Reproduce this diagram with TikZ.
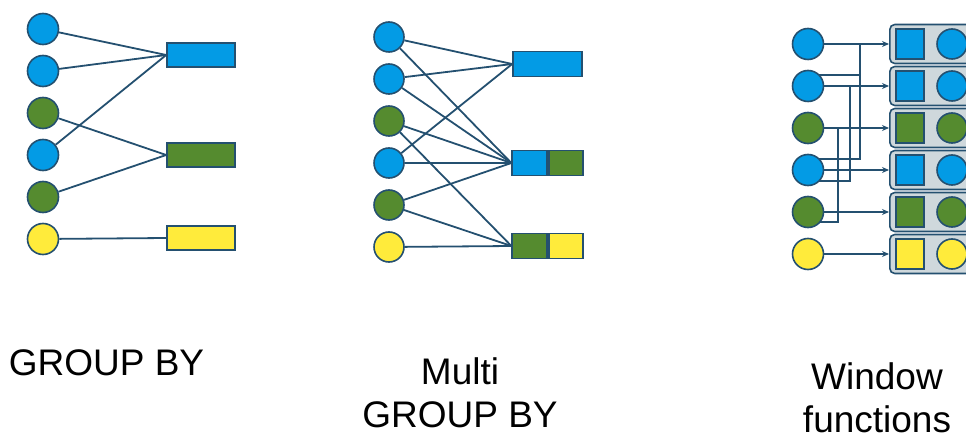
\documentclass[tikz,border=0pt]{standalone}
\usepackage{fontspec}
\setmainfont{Liberation Sans}
\usetikzlibrary{arrows.meta,backgrounds}
\definecolor{cblue}{RGB}{3,155,229}
\definecolor{cgreen}{RGB}{85,139,47}
\definecolor{cyellow}{RGB}{255,235,59}
\definecolor{cline}{RGB}{36,80,112}
\definecolor{cgray}{RGB}{207,216,220}
\begin{document}
\begin{tikzpicture}[x=1pt,y=-1pt,line width=1.4pt,
  dot/.style={circle,draw=cline,minimum size=31pt,inner sep=0pt,line width=1.6pt},
  bar/.style={rectangle,draw=cline,minimum width=68pt,minimum height=24pt,inner sep=0pt,line width=1.6pt},
  sq/.style={rectangle,draw=cline,minimum width=28pt,minimum height=30pt,inner sep=0pt,line width=1.6pt},
  wbox/.style={rectangle,rounded corners=5pt,draw=cline,fill=cgray,minimum width=100pt,minimum height=39pt,inner sep=0pt,line width=1.6pt,anchor=west},
  conn/.style={draw=cline,line width=1.8pt},
  arr/.style={conn,-{Stealth[length=7pt,width=6pt]}},
  lbl/.style={font=\fontsize{37}{43}\selectfont,inner sep=0pt}]
\useasboundingbox (0,0) rectangle (966,438);
\clip (0,0) rectangle (966,438);

% ---------- Panel 1: GROUP BY ----------
\node[dot,fill=cblue]   (a1) at (43,29) {};
\node[dot,fill=cblue]   (a2) at (43,71) {};
\node[dot,fill=cgreen]  (a3) at (43,113) {};
\node[dot,fill=cblue]   (a4) at (43,155) {};
\node[dot,fill=cgreen]  (a5) at (43,197) {};
\node[dot,fill=cyellow] (a6) at (43,239) {};
\node[bar,fill=cblue]   (ra1) at (201,55) {};
\node[bar,fill=cgreen]  (ra2) at (201,155) {};
\node[bar,fill=cyellow] (ra3) at (201,238) {};
\foreach \s/\t in {a1/ra1,a2/ra1,a4/ra1,a3/ra2,a5/ra2,a6/ra3}
  \draw[conn] (\s) -- (\t.west);

% ---------- Panel 2: Multi GROUP BY ----------
\node[dot,fill=cblue,minimum size=30pt]   (b1) at (389,37) {};
\node[dot,fill=cblue,minimum size=30pt]   (b2) at (389,79) {};
\node[dot,fill=cgreen,minimum size=30pt]  (b3) at (389,121) {};
\node[dot,fill=cblue,minimum size=30pt]   (b4) at (389,163) {};
\node[dot,fill=cgreen,minimum size=30pt]  (b5) at (389,205) {};
\node[dot,fill=cyellow,minimum size=30pt] (b6) at (389,247) {};
\node[bar,fill=cblue,minimum width=69pt,minimum height=25pt] (rb1) at (547.5,64) {};
\node[bar,fill=cblue,minimum width=35pt,minimum height=25pt,anchor=east] (rb2) at (548,163) {};
\node[bar,fill=cgreen,minimum width=34pt,minimum height=25pt,anchor=west] (rb2b) at (548,163) {};
\node[bar,fill=cgreen,minimum width=35pt,minimum height=25pt,anchor=east] (rb3) at (548,246) {};
\node[bar,fill=cyellow,minimum width=34pt,minimum height=25pt,anchor=west] (rb3b) at (548,246) {};
\foreach \s/\t in {b1/rb1,b1/rb2,b2/rb1,b2/rb2,b3/rb2,b3/rb3,b4/rb1,b4/rb2,b5/rb2,b5/rb3,b6/rb3}
  \draw[conn] (\s) -- (\t.west);

% ---------- Panel 3: Window functions ----------
\foreach \i/\y/\c in {1/44/cblue,2/86/cblue,3/128/cgreen,4/170/cblue,5/212/cgreen,6/254/cyellow}{
  \node[wbox] (w\i) at (889,\y) {};
  \node[sq,fill=\c] (s\i) at (910,\y) {};
  \node[dot,fill=\c,minimum size=30pt] (q\i) at (952,\y) {};
  \node[dot,fill=\c,minimum size=31pt] (c\i) at (808,\y) {};
  \draw[arr] (c\i) -- (w\i.west);
}
\coordinate (j1) at (860,0);
\coordinate (j2) at (850,0);
\coordinate (j3) at (838,0);
\begin{pgfonlayer}{background}
  \draw[conn] ([yshift=11pt]c2.center) -- ([yshift=11pt]c2.center -| j1);
  \draw[conn] (c1.center -| j1) |- ([yshift=11pt]c4.center);
  \draw[conn] (c2.center -| j2) |- ([yshift=-11pt]c4.center);
  \draw[conn] (c3.center -| j3) |- ([yshift=-10pt]c5.center);
\end{pgfonlayer}

% ---------- Labels ----------
\node[lbl,anchor=base] (t1) at (106.5,375) {GROUP BY};
\node[lbl,align=center,anchor=base] (t2) at (460,427) {Multi\\GROUP BY};
\node[lbl,align=center,anchor=base] (t3) at (877,432) {Window\\functions};
\end{tikzpicture}
\end{document}
